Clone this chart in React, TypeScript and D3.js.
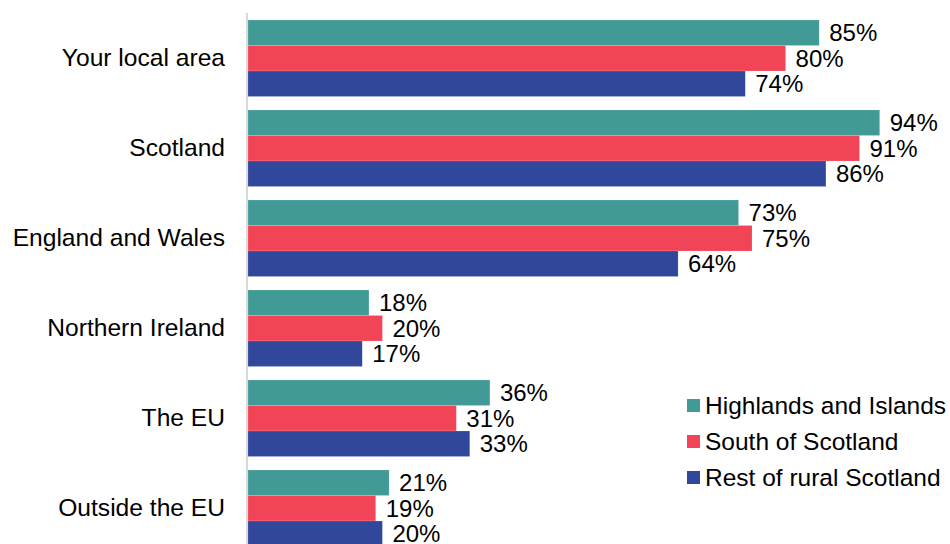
import React from "react";
import * as d3 from "d3";

const categories = ["Your local area", "Scotland", "England and Wales", "Northern Ireland", "The EU", "Outside the EU"];
const seriesNames = ["Highlands and Islands", "South of Scotland", "Rest of rural Scotland"];
const highlands = [85, 94, 73, 18, 36, 21];
const south = [80, 91, 75, 20, 31, 19];
const restRural = [74, 86, 64, 17, 33, 20];
const colors = ["#429A97", "#F24457", "#30479B"];

const W = 950;
const H = 544;

export default function App() {
  const series = [highlands, south, restRural];
  const x = d3.scaleLinear().domain([0, 100]).range([248, 920]);
  const y = d3.scaleBand<string>().domain(categories).range([13.25, 553.25]).paddingInner(0.15).paddingOuter(0.075);
  const inner = d3.scaleBand<number>().domain([0, 1, 2]).range([0, y.bandwidth()]);
  const font = "Arial, 'Liberation Sans', sans-serif";
  return (
    <svg width={W} height={H} style={{ position: "absolute", left: 0, top: 0, background: "#fff" }}>
      <line x1={247} x2={247} y1={13} y2={H} stroke="#d9d9d9" strokeWidth={2} />
      {categories.map((c, i) => (
        <g key={c}>
          <text x={225} y={(y(c) as number) + y.bandwidth() / 2 + 7.5} textAnchor="end" fontFamily={font} fontSize={24.6} fill="#000">
            {c}
          </text>
          {series.map((s, j) => {
            const by = (y(c) as number) + (inner(j) as number);
            return (
              <g key={j}>
                <rect x={x(0)} y={by} width={x(s[i]) - x(0)} height={inner.bandwidth()} fill={colors[j]} stroke="#ffffff" strokeOpacity={0.3} strokeWidth={0.5} />
                <text x={x(s[i]) + 10} y={by + inner.bandwidth() / 2 + 8.5} fontFamily={font} fontSize={24} fill="#000">
                  {s[i]}%
                </text>
              </g>
            );
          })}
        </g>
      ))}
      {seriesNames.map((n, j) => (
        <g key={n}>
          <rect x={687} y={399 + j * 36} width={13} height={13} fill={colors[j]} />
          <text x={705} y={413.5 + j * 36} fontFamily={font} fontSize={24.5} fill="#000">
            {n}
          </text>
        </g>
      ))}
    </svg>
  );
}
